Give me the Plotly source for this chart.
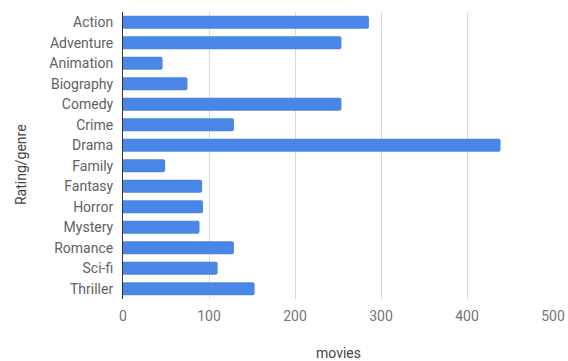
import plotly.graph_objects as go

# Movie counts per genre
genres = ["Action", "Adventure", "Animation", "Biography", "Comedy", "Crime", "Drama",
          "Family", "Fantasy", "Horror", "Mystery", "Romance", "Sci-fi", "Thriller"]
movies = [286, 254, 46, 75, 254, 129, 439, 49, 92, 93, 89, 129, 110, 153]
x_ticks = [0, 100, 200, 300, 400, 500]

fig = go.Figure(
    go.Bar(
        x=movies,
        y=genres,
        orientation="h",
        marker=dict(color="#4a86e8", cornerradius=2, line=dict(width=0)),
    )
)

fig.update_layout(
    width=568,
    height=361,
    margin=dict(l=123, r=15, t=12, b=62),
    paper_bgcolor="white",
    plot_bgcolor="white",
    bargap=0.36,
    showlegend=False,
    font=dict(family="Roboto", size=14, color="#757575"),
    annotations=[
        dict(text="movies", xref="paper", yref="paper", x=0.5, y=-0.187,
             xanchor="center", yanchor="middle", showarrow=False,
             font=dict(size=14, color="#444444")),
        dict(text="Rating/genre", xref="paper", yref="paper", x=-0.237, y=0.467,
             xanchor="center", yanchor="middle", showarrow=False, textangle=-90,
             font=dict(size=14, color="#444444")),
    ],
)

fig.update_xaxes(
    range=[0, 500],
    tickvals=x_ticks,
    automargin=False,
    showgrid=True,
    gridcolor="#d9d9d9",
    gridwidth=1,
    zeroline=False,
    showline=False,
    ticks="",
    ticklabelstandoff=7,
    tickfont=dict(size=14, color="#757575"),
)

fig.update_yaxes(
    categoryorder="array",
    categoryarray=genres,
    autorange="reversed",
    automargin=False,
    showgrid=False,
    showline=True,
    linecolor="#333333",
    linewidth=1,
    ticks="",
    ticklabelstandoff=6,
    tickfont=dict(size=14, color="#616161"),
)

fig.write_html("out.html")
